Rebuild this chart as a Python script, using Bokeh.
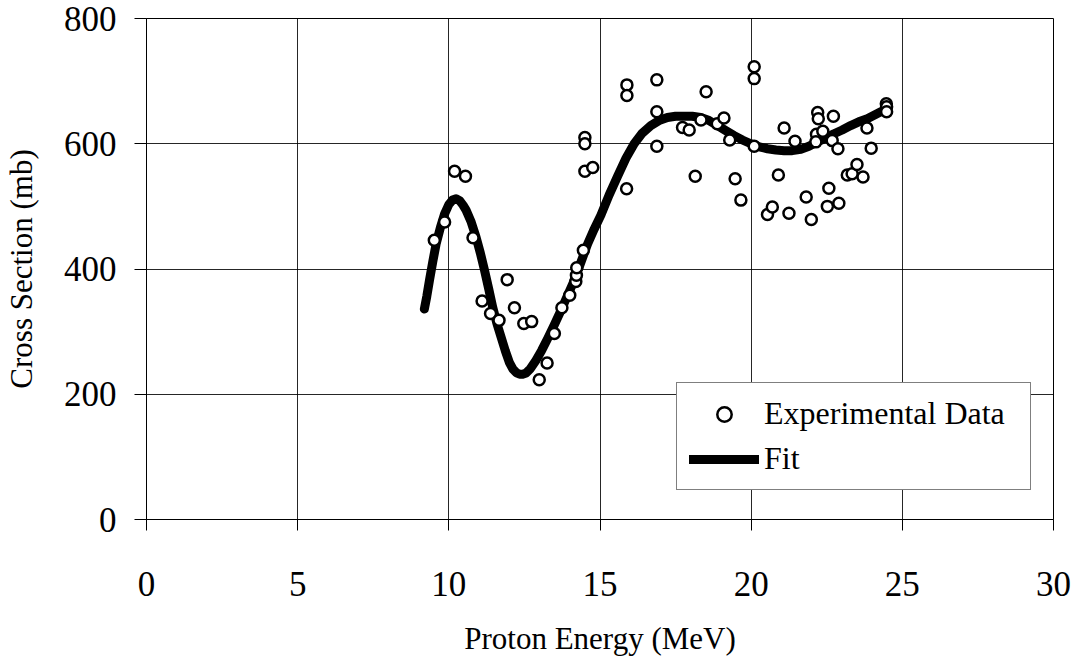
from bokeh.plotting import figure
from bokeh.models import ColumnDataSource, Legend, LegendItem, Range1d, FixedTicker
from bokeh.embed import file_html
from bokeh.resources import INLINE

# Experimental data (Proton Energy MeV, Cross Section mb)
exp_energy = [9.52, 9.86, 10.19, 10.55, 10.80, 11.10, 11.38, 11.66, 11.93, 12.17,
              12.48, 12.74, 12.99, 13.25, 13.49, 13.74, 14.00, 14.20, 14.22, 14.23,
              14.45, 14.50, 14.50, 14.50, 14.76, 15.88, 15.89, 15.89, 16.88, 16.88,
              16.88, 17.73, 17.95, 18.15, 18.34, 18.51, 18.88, 19.10, 19.29, 19.47,
              19.66, 20.10, 20.10, 20.10, 20.54, 20.70, 20.90, 21.09, 21.25, 21.45,
              21.82, 21.99, 22.20, 22.22, 22.16, 22.14, 22.37, 22.52, 22.57, 22.72,
              22.68, 22.87, 22.90, 23.18, 23.34, 23.50, 23.70, 23.83, 23.97, 24.47,
              24.48, 24.48]
exp_xsec = [446, 475, 556, 548, 450, 349, 329, 318, 383, 338,
            313, 316, 223, 250, 297, 338, 358, 380, 390, 402,
            430, 610, 600, 556, 562, 528, 694, 677, 702, 651,
            596, 626, 622, 548, 638, 683, 632, 641, 606, 544,
            510, 723, 704, 596, 487, 499, 550, 625, 489, 604,
            515, 479, 650, 640, 615, 603, 620, 500, 529, 644,
            605, 592, 505, 550, 552, 567, 547, 625, 593, 664,
            659, 651]

# Fit curve
fit_energy = [9.19, 9.27, 9.36, 9.47, 9.58, 9.72, 9.86, 10.00, 10.12, 10.24,
              10.36, 10.47, 10.57, 10.74, 10.90, 11.04, 11.18, 11.32, 11.45, 11.59,
              11.73, 11.87, 12.00, 12.12, 12.24, 12.34, 12.44, 12.56, 12.70, 12.88,
              13.07, 13.27, 13.49, 13.71, 13.93, 14.15, 14.37, 14.59, 14.81, 15.03,
              15.30, 15.58, 15.86, 16.13, 16.40, 16.68, 16.95, 17.23, 17.50, 17.78,
              18.05, 18.33, 18.61, 18.89, 19.16, 19.44, 19.71, 19.99, 20.27, 20.54,
              20.82, 21.09, 21.36, 21.64, 21.91, 22.19, 22.46, 22.74, 23.01, 23.29,
              23.56, 23.84, 24.16, 24.48]
fit_xsec = [336, 356, 382, 412, 440, 466, 488, 503, 510, 512,
            509, 502, 494, 475, 451, 426, 398, 368, 339, 313,
            291, 269, 251, 240, 234, 232, 232, 234, 241, 254,
            270, 289, 311, 334, 358, 382, 411, 440, 464, 486,
            518, 548, 577, 600, 617, 629, 637, 642, 644, 644,
            644, 642, 637, 629, 621, 613, 606, 600, 595, 592,
            590, 589, 589, 591, 596, 603, 609, 616, 622, 629,
            635, 640, 648, 656]

x_ticks = [0, 5, 10, 15, 20, 25, 30]
y_ticks = [0, 200, 400, 600, 800]

FONT = "Liberation Serif"

p = figure(width=1076, height=659, output_backend="svg", toolbar_location=None,
           x_range=Range1d(0, 30), y_range=Range1d(0, 800))
p.min_border_left = 145
p.min_border_right = 23
p.min_border_top = 18
p.min_border_bottom = 140
p.background_fill_color = "white"
p.border_fill_color = "white"
p.outline_line_color = "black"
p.outline_line_width = 1

for ax in (p.xaxis[0], p.yaxis[0]):
    ax.axis_line_color = "black"
    ax.axis_line_width = 1
    ax.major_tick_line_color = "black"
    ax.major_tick_in = 0
    ax.minor_tick_line_color = None
    ax.major_label_text_font = FONT
    ax.major_label_text_font_size = "35px"
    ax.major_label_text_color = "black"
    ax.axis_label_text_font = FONT
    ax.axis_label_text_font_style = "normal"
    ax.axis_label_text_font_size = "31px"
    ax.axis_label_text_color = "black"

p.xaxis.ticker = FixedTicker(ticks=x_ticks)
p.yaxis.ticker = FixedTicker(ticks=y_ticks)
p.xaxis.major_tick_out = 11
p.yaxis.major_tick_out = 12
p.xaxis.major_label_standoff = 41
p.yaxis.major_label_standoff = 18
p.xaxis.axis_label = "Proton Energy (MeV)"
p.yaxis.axis_label = "Cross Section (mb)"
p.xaxis.axis_label_standoff = 22
p.yaxis.axis_label_standoff = 22

p.xgrid.ticker = FixedTicker(ticks=x_ticks)
p.ygrid.ticker = FixedTicker(ticks=y_ticks)
for g in (p.xgrid[0], p.ygrid[0]):
    g.grid_line_color = "black"
    g.grid_line_width = 1
    g.grid_line_alpha = 0.85

fit_src = ColumnDataSource(dict(x=fit_energy, y=fit_xsec))
exp_src = ColumnDataSource(dict(x=exp_energy, y=exp_xsec))

fit_r = p.line("x", "y", source=fit_src, line_color="black", line_width=9,
               line_cap="round", line_join="round")
exp_r = p.scatter("x", "y", source=exp_src, marker="circle", size=11,
                  fill_color="white", line_color="black", line_width=2.5)

legend = Legend(items=[LegendItem(label="Experimental Data", renderers=[exp_r]),
                       LegendItem(label="Fit", renderers=[fit_r])],
                location=(530, 29))
legend.label_text_font = FONT
legend.label_text_font_size = "32px"
legend.label_text_color = "black"
legend.border_line_color = "black"
legend.border_line_width = 1
legend.background_fill_color = "white"
legend.background_fill_alpha = 1
legend.padding = 12
legend.spacing = 8
legend.margin = 0
legend.glyph_width = 70
legend.glyph_height = 36
legend.label_height = 36
legend.label_width = 254
legend.label_standoff = 5
p.add_layout(legend, "center")

open("out.html", "w").write(file_html(p, INLINE))
